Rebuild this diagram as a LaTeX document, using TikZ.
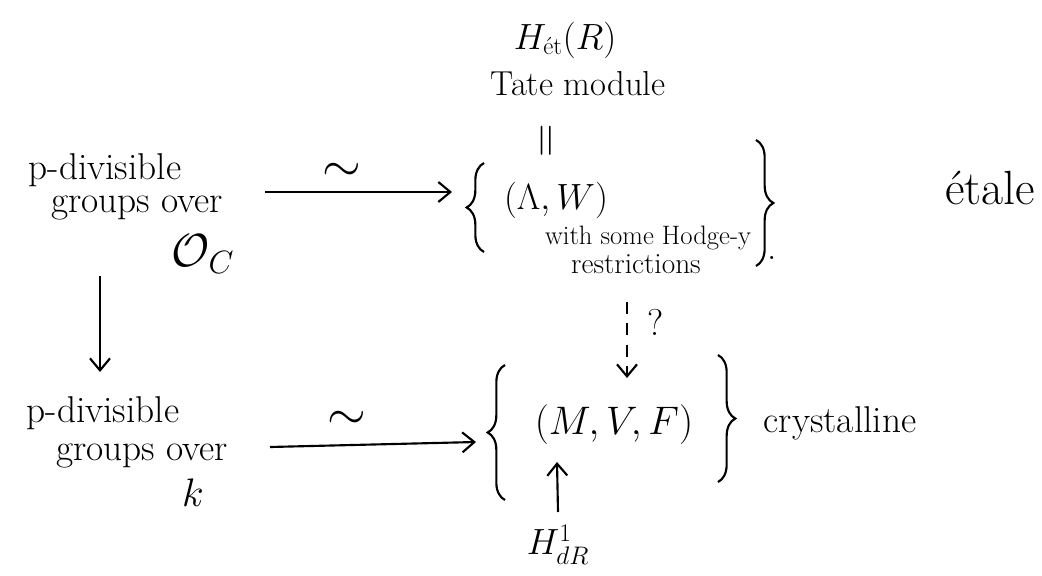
\documentclass[tikz,border=0pt]{standalone}
\usepackage{amsmath}
\usepackage{fontspec}
\usetikzlibrary{arrows.meta,decorations.pathreplacing}
\tikzset{
  txt/.style={inner sep=0pt, font=\fontsize{28pt}{32pt}\selectfont},
  mtxt/.style={inner sep=0pt, font=\fontsize{24pt}{28pt}\selectfont},
  smalltxt/.style={inner sep=0pt, font=\fontsize{20pt}{24pt}\selectfont},
  arr/.style={-{Straight Barb[length=9pt,width=15pt,line width=1.6pt]}, line width=1.6pt},
  dasharr/.style={arr, dash pattern=on 9pt off 7pt},
  brc/.style={decorate, decoration={brace, amplitude=13pt}, line width=1.6pt},
}
\begin{document}
\begin{tikzpicture}[x=0.75pt,y=-0.75pt]
\useasboundingbox (0,0) rectangle (1042,575);
% left top
\node[txt] (lt1) at (105,170) {p-divisible};
\node[txt] (lt2) at (137,208) {groups over};
\node[mtxt] (lt3) at (203,254) {\scalebox{1.4}{$\mathcal{O}_C$}};
% left bottom
\node[txt] (lb1) at (103,413) {p-divisible};
\node[txt] (lb2) at (142,456) {groups over};
\node[mtxt] (lb3) at (193,493) {\scalebox{1.2}{$k$}};
% top set
\node[mtxt] (het) at (565,40) {\scalebox{1.1}{$H_{\text{ét}}(R)$}};
\node[txt, font=\fontsize{26pt}{30pt}\selectfont] (tate) at (578,84) {Tate module};
\node[mtxt] (eqv) at (549,141) {\scalebox{1.4}{\rotatebox{90}{$=$}}};
\node[mtxt] (lw) at (556,200) {\scalebox{1.1}{$(\Lambda, W)$}};
\node[smalltxt] (hodge) at (648,238) {with some Hodge-y};
\node[smalltxt, font=\fontsize{22pt}{24pt}\selectfont] (restr) at (636,264) {restrictions};
\node[txt] (dot) at (772,258) {.};
\node[txt, font=\fontsize{36pt}{40pt}\selectfont] (etale) at (990,188) {étale};
\coordinate (tlb1) at (484,252);
\coordinate (tlb2) at (484,163);
\coordinate (trb1) at (756,140);
\coordinate (trb2) at (756,266);
\draw[brc] (tlb1) -- (tlb2);
\draw[brc] (trb1) -- (trb2);
% bottom set
\node[mtxt] (mvf) at (614,425) {\scalebox{1.2}{$(M, V, F)$}};
\node[txt] (cryst) at (840,423) {crystalline};
\coordinate (blb1) at (505,500);
\coordinate (blb2) at (505,365);
\coordinate (brb1) at (718,355);
\coordinate (brb2) at (718,482);
\draw[brc] (blb1) -- (blb2);
\draw[brc] (brb1) -- (brb2);
\node[mtxt] (hdr) at (558,545) {\scalebox{1.1}{$H^1_{dR}$}};
% arrows
\coordinate (ta1) at (265,192);
\coordinate (ta2) at (452,192);
\draw[arr] (ta1) -- (ta2);
\node[mtxt] (t1) at (342,172) {\scalebox{1.5}{$\sim$}};
\coordinate (ba1) at (270,447);
\coordinate (ba2) at (476,442);
\draw[arr] (ba1) -- (ba2);
\node[mtxt] (t2) at (347,420) {\scalebox{1.5}{$\sim$}};
\coordinate (va1) at (100,276);
\coordinate (va2) at (100,372);
\draw[arr] (va1) -- (va2);
\coordinate (da1) at (627,302);
\coordinate (da2) at (627,378);
\draw[dasharr] (da1) -- (da2);
\node[txt] (q) at (656,322) {?};
\coordinate (ha1) at (558,512);
\coordinate (ha2) at (557,462);
\draw[arr] (ha1) -- (ha2);
\end{tikzpicture}
\end{document}
